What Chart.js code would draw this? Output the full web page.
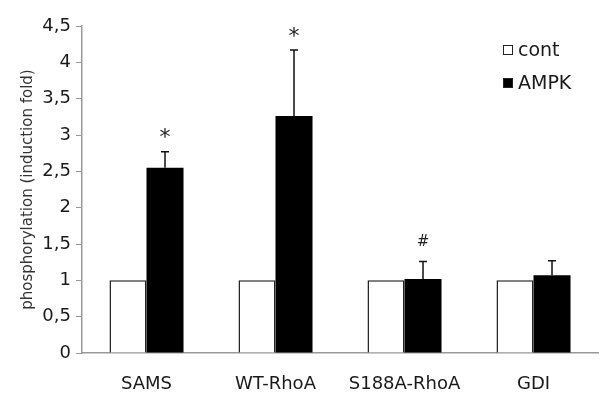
<!DOCTYPE html>
<html>
<head>
<meta charset="utf-8">
<script src="https://cdn.jsdelivr.net/npm/chart.js@4"></script>
<style>
  html, body { margin: 0; padding: 0; background: #fff; }
  #wrap { width: 608px; height: 396px; }
</style>
</head>
<body>
<div id="wrap"><canvas id="phosChart" width="608" height="396"></canvas></div>
<script>
// values
const categories = ['SAMS', 'WT-RhoA', 'S188A-RhoA', 'GDI'];
const contValues = [1, 1, 1, 1];
const ampkValues = [2.55, 3.26, 1.02, 1.07];
const ampkErrors = [0.22, 0.91, 0.24, 0.2];
const markers = ['*', '*', '#', ''];
const yTicks = [0, 0.5, 1, 1.5, 2, 2.5, 3, 3.5, 4, 4.5];

const FONT = "'DejaVu Sans', Verdana, sans-serif";

// error bars + significance marks above the AMPK bars
const errorBarPlugin = {
  id: 'errorBars',
  afterDatasetsDraw(chart) {
    const ctx = chart.ctx;
    const meta = chart.getDatasetMeta(1);
    const y = chart.scales.y;
    ctx.save();
    ctx.strokeStyle = '#111';
    ctx.lineWidth = 1.5;
    meta.data.forEach(function (bar, i) {
      const top = y.getPixelForValue(ampkValues[i] + ampkErrors[i]);
      const base = y.getPixelForValue(ampkValues[i]);
      ctx.beginPath();
      ctx.moveTo(bar.x, base);
      ctx.lineTo(bar.x, top);
      ctx.moveTo(bar.x - 4, top);
      ctx.lineTo(bar.x + 4, top);
      ctx.stroke();
      if (markers[i]) {
        ctx.fillStyle = '#222';
        ctx.textAlign = 'center';
        if (markers[i] === '*') {
          ctx.font = '22px ' + FONT;
          ctx.textBaseline = 'top';
          ctx.fillText(markers[i], bar.x, top - 24);
        } else {
          ctx.font = '15px ' + FONT;
          ctx.textBaseline = 'middle';
          ctx.fillText(markers[i], bar.x, top - 19);
        }
      }
    });
    ctx.restore();
  }
};

// legend in the upper right corner of the plot
const legendPlugin = {
  id: 'cornerLegend',
  afterDraw(chart) {
    const ctx = chart.ctx;
    ctx.save();
    ctx.font = '19px ' + FONT;
    ctx.textBaseline = 'middle';
    ctx.textAlign = 'left';
    chart.data.datasets.forEach(function (ds, i) {
      const cy = 50 + i * 33;
      ctx.fillStyle = ds.backgroundColor;
      ctx.fillRect(503, cy - 5, 10, 10);
      ctx.strokeStyle = '#222';
      ctx.lineWidth = 1;
      ctx.strokeRect(503.5, cy - 4.5, 9, 9);
      ctx.fillStyle = '#1a1a1a';
      ctx.fillText(ds.label, 518, cy + 1);
    });
    ctx.restore();
  }
};

const data = {
  labels: categories,
  datasets: [
    {
      label: 'cont',
      data: contValues,
      backgroundColor: '#ffffff',
      borderColor: '#222222',
      borderWidth: 1.5
    },
    {
      label: 'AMPK',
      data: ampkValues,
      backgroundColor: '#000000',
      borderColor: '#000000',
      borderWidth: 0
    }
  ]
};

const config = {
  type: 'bar',
  data: data,
  options: {
    responsive: false,
    animation: false,
    events: [],
    layout: { padding: { top: 26, right: 10, bottom: 0, left: 0 } },
    datasets: {
      bar: { barPercentage: 1.0, categoryPercentage: 0.574 }
    },
    plugins: {
      legend: { display: false },
      tooltip: { enabled: false }
    },
    scales: {
      x: {
        grid: { display: false, drawTicks: false },
        border: { color: '#999', width: 1.5 },
        ticks: { color: '#1a1a1a', padding: 21, font: { family: FONT, size: 18 } },
        afterFit(scale) { scale.height = 43; }
      },
      y: {
        min: 0,
        max: 4.5,
        afterBuildTicks(scale) { scale.ticks = yTicks.map(v => ({ value: v })); },
        grid: { display: true, drawOnChartArea: false, drawTicks: true, tickLength: 6, color: '#999' },
        border: { color: '#999', width: 1.5 },
        ticks: {
          color: '#1a1a1a',
          padding: 5,
          font: { family: FONT, size: 18 },
          callback: v => String(v).replace('.', ',')
        },
        title: {
          display: true,
          text: 'phosphorylation (induction fold)',
          color: '#333',
          font: { family: FONT, size: 15 },
          padding: { top: 19, bottom: 0 }
        },
        afterFit(scale) { scale.width = 82; }
      }
    }
  },
  plugins: [errorBarPlugin, legendPlugin]
};

new Chart(document.getElementById('phosChart').getContext('2d'), config);
</script>
</body>
</html>
